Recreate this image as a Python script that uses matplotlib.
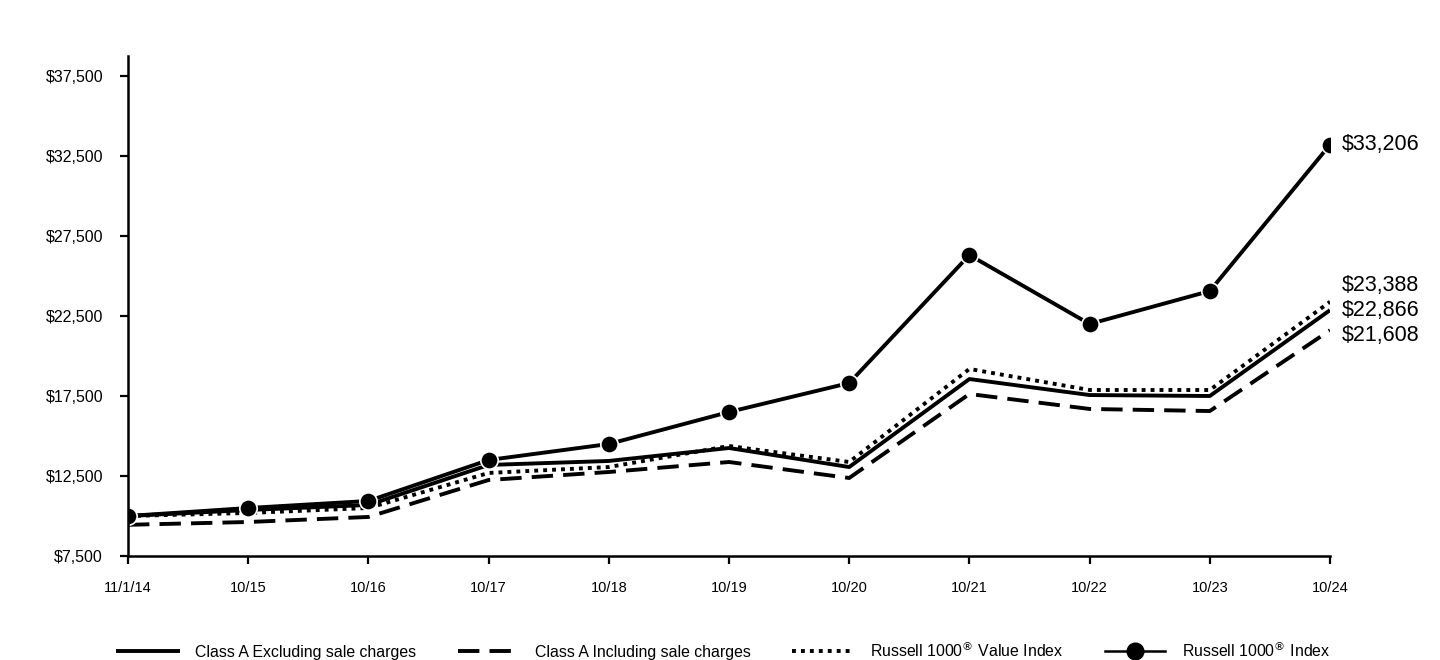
import matplotlib.pyplot as plt
from matplotlib.lines import Line2D

plt.rcParams['font.family'] = ['Liberation Sans', 'DejaVu Sans']

dates = ["11/1/14", "10/15", "10/16", "10/17", "10/18", "10/19", "10/20", "10/21", "10/22", "10/23", "10/24"]
class_a_excl = [10000, 10375, 10690, 13190, 13440, 14250, 13060, 18560, 17560, 17500, 22866]
class_a_incl = [9450, 9625, 9940, 12250, 12750, 13375, 12375, 17625, 16690, 16560, 21608]
r1000_value = [10000, 10190, 10500, 12690, 13060, 14375, 13375, 19190, 17875, 17875, 23388]
r1000 = [10000, 10500, 10940, 13500, 14500, 16500, 18310, 26310, 22000, 24060, 33206]
yticks = [7500, 12500, 17500, 22500, 27500, 32500, 37500]

fig = plt.figure(figsize=(14.4, 6.6), dpi=100)
ax = fig.add_axes([128/1440, 1-556/660, (1330-128)/1440, 500/660])
x = range(len(dates))

lw = 2.8
ax.plot(x, class_a_excl, color="black", lw=lw, solid_capstyle="butt")
ax.plot(x, class_a_incl, color="black", lw=lw, dashes=(5.5, 2.6))
ax.plot(x, r1000_value, color="black", lw=lw, dashes=(1, 1.3))
ax.plot(x, r1000, color="black", lw=lw, marker="o", ms=12.5, mfc="black", mec="white", mew=1.2)

# end labels, offsets in pixels so they don't overlap
for vals, dy in [(r1000, 0), (r1000_value, 16), (class_a_excl, 0), (class_a_incl, -5)]:
    ax.annotate(f"${vals[-1]:,}", (len(dates)-1, vals[-1]), xytext=(12, dy), textcoords="offset pixels",
                va="center", ha="left", fontsize=15.5, annotation_clip=False)

ax.set_xlim(0, len(dates)-1)
ax.set_ylim(7500, 38750)
ax.set_xticks(list(x))
ax.set_xticklabels(dates)
ax.set_yticks(yticks)
ax.set_yticklabels([f"${v:,}" for v in yticks])
ax.tick_params(axis="both", width=1.6, length=6, direction="out")
ax.tick_params(axis="x", pad=12, labelsize=10.5)
ax.tick_params(axis="y", pad=12, labelsize=11.5)
for s in ["top", "right"]:
    ax.spines[s].set_visible(False)
for s in ["left", "bottom"]:
    ax.spines[s].set_linewidth(1.8)

handles = [
    Line2D([], [], color="black", lw=lw),
    Line2D([], [], color="black", lw=lw, dashes=(5.5, 2.6)),
    Line2D([], [], color="black", lw=lw, dashes=(1, 1.3)),
    Line2D([], [], color="black", lw=1.8, marker="o", ms=12),
]
labels = ["Class A Excluding sale charges", "Class A Including sale charges",
          "Russell 1000$^{®}$ Value Index", "Russell 1000$^{®}$ Index"]
fig.legend(handles, labels, loc="center", bbox_to_anchor=(0.503, 1-650/660), ncol=4, frameon=False,
           fontsize=11.4, handlelength=3.8, handletextpad=1.1, columnspacing=2.6)

fig.savefig("out.png", dpi=100)
